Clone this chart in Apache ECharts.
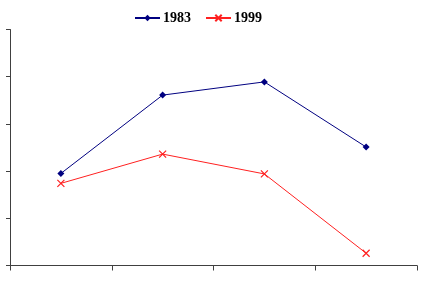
<!DOCTYPE html>
<html>
<head>
<meta charset="utf-8">
<script src="https://cdn.jsdelivr.net/npm/echarts@6/dist/echarts.min.js"></script>
<style>
  html, body { margin: 0; padding: 0; background: #fff; }
  #main { width: 423px; height: 284px; }
</style>
</head>
<body>
<div id="main"></div>
<script>
// data (y axis has no labels, scale 0..5)
var categories = ['A', 'B', 'C', 'D'];
var series1983 = [1.95, 3.61, 3.89, 2.51];
var series1999 = [1.74, 2.36, 1.94, 0.26];
var yTicks = [0, 1, 2, 3, 4, 5];

var dom = document.getElementById("main");
var myChart = echarts.init(dom);
var crossPath = 'path://M0,0L10,10M10,0L0,10';

var option = {
    animation: false,
    grid: { left: 10, right: 6, top: 29.5, bottom: 18.5, containLabel: false },
    legend: {
        top: 6,
        left: 129,
        itemWidth: 25,
        itemHeight: 8,
        itemGap: 14,
        textStyle: {
            fontFamily: 'Liberation Serif, "Times New Roman", serif',
            fontWeight: 'bold',
            fontSize: 14,
            color: '#000',
            padding: [0, 0, 0, -2]
        },
        data: ['1983', '1999']
    },
    xAxis: {
        type: 'category',
        data: categories,
        boundaryGap: true,
        axisLine: { lineStyle: { color: '#404040', width: 1 } },
        axisTick: { show: true, length: 5, lineStyle: { color: '#404040' } },
        axisLabel: { show: false },
        splitLine: { show: false }
    },
    yAxis: {
        type: 'value',
        min: yTicks[0],
        max: yTicks[yTicks.length - 1],
        interval: 1,
        axisLine: { show: true, lineStyle: { color: '#404040', width: 1 } },
        axisTick: { show: true, length: 4, lineStyle: { color: '#404040' } },
        axisLabel: { show: false },
        splitLine: { show: false }
    },
    series: [
        {
            name: '1983',
            type: 'line',
            data: series1983,
            symbol: 'diamond',
            symbolSize: 7,
            lineStyle: { color: '#000080', width: 1 },
            itemStyle: { color: '#000080' }
        },
        {
            name: '1999',
            type: 'line',
            data: series1999,
            symbol: crossPath,
            symbolSize: 7,
            lineStyle: { color: '#ff2020', width: 1 },
            itemStyle: { color: 'rgba(0,0,0,0)', borderColor: '#ff2020', borderWidth: 1.2 }
        }
    ]
};

if (option && typeof option === "object") {
    myChart.setOption(option, true);
}
</script>
</body>
</html>
